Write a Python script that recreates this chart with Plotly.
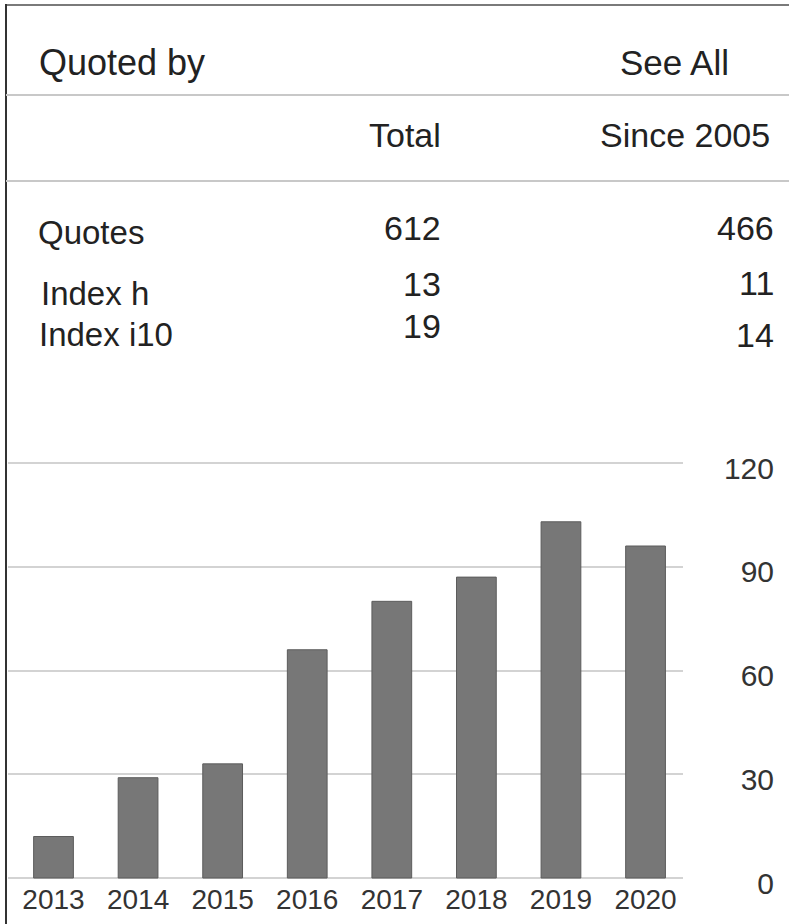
import plotly.graph_objects as go

W, H = 789, 924

# ---- data ----
header_left = "Quoted by"
header_right = "See All"
col_headers = ["Total", "Since 2005"]
row_labels = ["Quotes", "Index h", "Index i10"]
total_vals = [612, 13, 19]
since_vals = [466, 11, 14]

years = ["2013", "2014", "2015", "2016", "2017", "2018", "2019", "2020"]
counts = [12, 29, 33, 66, 80, 87, 103, 96]
y_ticks = [0, 30, 60, 90, 120]


def px(x):
    return x / W


def py(y):
    return 1 - y / H


FONT = "Liberation Sans, Arial, sans-serif"
TXT = "#222222"

# y scale: value 0 at 878 px, 120 at 463 px
Y0_PX, Y120_PX = 878.0, 463.0
ppu = (Y0_PX - Y120_PX) / 120.0
Y_LO, Y_HI = -7.0, 127.0
dom_bottom_px = Y0_PX - Y_LO * ppu
dom_top_px = Y0_PX - Y_HI * ppu

fig = go.Figure(
    go.Bar(
        x=list(range(len(years))),
        y=counts,
        width=0.47,
        marker=dict(color="#777777", line=dict(color="#5c5c5c", width=1)),
        hoverinfo="skip",
    )
)

fig.update_layout(
    width=W,
    height=H,
    margin=dict(l=0, r=0, t=0, b=0),
    paper_bgcolor="white",
    plot_bgcolor="white",
    showlegend=False,
    font=dict(family=FONT, color=TXT),
    xaxis=dict(
        domain=[px(8), px(683)],
        range=[-0.538, 7.443],
        tickvals=list(range(len(years))),
        ticktext=years,
        tickfont=dict(size=28, color="#333333", family=FONT),
        anchor="free",
        position=py(Y0_PX),
        showgrid=False,
        zeroline=False,
        showline=False,
        ticks="",
        ticklabelstandoff=2,
        fixedrange=True,
    ),
    yaxis=dict(
        domain=[py(dom_bottom_px), py(dom_top_px)],
        range=[Y_LO, Y_HI],
        tickvals=y_ticks,
        tickfont=dict(size=30, color="#333333", family=FONT),
        side="right",
        anchor="free",
        position=px(777),
        ticklabelposition="inside",
        showgrid=True,
        gridcolor="#d3d3d3",
        gridwidth=2,
        zeroline=True,
        zerolinecolor="#d3d3d3",
        zerolinewidth=2,
        showline=False,
        ticks="",
        ticklabelshift=5,
        fixedrange=True,
    ),
)

shapes = [
    dict(type="line", xref="paper", yref="paper", x0=px(6), x1=1, y0=py(5), y1=py(5),
         line=dict(color="#7a7a7a", width=2)),
    dict(type="line", xref="paper", yref="paper", x0=px(6), x1=px(6), y0=py(4), y1=0,
         line=dict(color="#333333", width=2)),
    dict(type="line", xref="paper", yref="paper", x0=px(6), x1=1, y0=py(95), y1=py(95),
         line=dict(color="#c8c8c8", width=2)),
    dict(type="line", xref="paper", yref="paper", x0=px(6), x1=1, y0=py(181), y1=py(181),
         line=dict(color="#c8c8c8", width=2)),
]
fig.update_layout(shapes=shapes)

ann = []


def add_text(text, x, y, anchor, size=34):
    ann.append(dict(text=str(text), x=px(x), y=py(y), xref="paper", yref="paper",
                    xanchor=anchor, yanchor="middle", showarrow=False,
                    font=dict(size=size, color=TXT, family=FONT)))


add_text(header_left, 37, 62, "left", 36)
add_text(header_right, 731, 62, "right", 35)
add_text(col_headers[0], 443, 135, "right")
add_text(col_headers[1], 772, 135, "right")

label_x = [36, 39, 37]
label_y = [233, 293, 335]
total_y = [228, 284, 326]
since_y = [228, 283, 335]
for i in range(len(row_labels)):
    add_text(row_labels[i], label_x[i], label_y[i], "left", 33)
    add_text(total_vals[i], 443, total_y[i], "right")
    add_text(since_vals[i], 776, since_y[i], "right")

fig.update_layout(annotations=ann)

fig.write_html(
    "out.html",
    config={"displayModeBar": False},
    post_script="document.body.style.margin='0';document.body.style.overflow='hidden';",
)
